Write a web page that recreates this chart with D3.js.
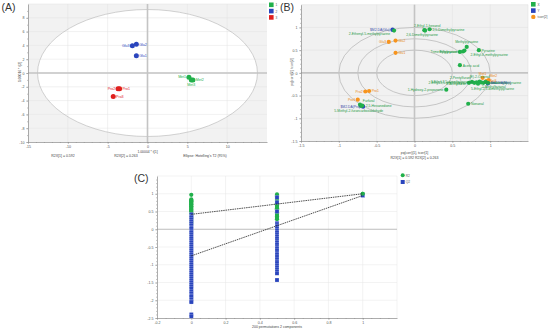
<!DOCTYPE html>
<html>
<head>
<meta charset="utf-8">
<script src="https://cdn.jsdelivr.net/npm/d3@7"></script>
<style>
body { margin: 0; background: #fff; }
text { font-family: "Liberation Sans", Arial, sans-serif; }
</style>
</head>
<body>
<svg id="chart" width="550" height="331"></svg>
<script>
// ---- (A) score plot data
var scoreNames = ["Met1", "Met2", "Met3", "Glu1", "Glu2", "Glu3", "Pro1", "Pro2", "Pro3"];
var scoreClass = [1, 1, 1, 2, 2, 2, 3, 3, 3];
var scoreT1 = [5.2, 5.7, 5.5, -1.4, -1.4, -1.9, -3.5, -3.7, -4.3];
var scoreT2 = [-0.6, -1.0, -1.0, 2.5, 4.15, 3.95, -2.3, -2.3, -3.4];
var classLabels = ["1", "2", "3"];
var hotelling = [13.8, 9.2];

// ---- (B) loading plot data
var loadNames = ["2-Ethenyl-5-methylpyrazine", "2-Ethyl-1-hexanol", "2,6-Dimethylpyrazine", "2,5-Dimethylpyrazine",
    "Methylpyrazine", "Trimethylpyrazine", "Ethylpyrazine", "2-Ethyl-6-methylpyrazine", "Pyrazine", "Acetic acid",
    "2-Pentylfuran", "(E)-2-Octenal", "2-Ethyl-3,5-dimethylpyrazine", "3-Ethyl-2,5-dimethylpyrazine",
    "2-Acetylfuran", "5-Ethyl-2,3-dimethylpyrazine", "Hexanal", "Benzaldehyde", "2-Methylbutanal", "Tetramethylpyrazine",
    "1-Hydroxy-2-propanone", "Nonanal", "Furfural", "2,5-Hexanedione", "5-Methyl-2-furancarboxaldehyde"];
var loadP1 = [-0.27, 0.13, 0.14, 0.2, 0.69, 0.6, 0.64, 0.66, 0.85, 0.6,
    0.76, 0.86, 0.79, 0.82, 0.72, 0.84, 0.88, 0.91, 0.94, 0.97,
    0.42, 0.71, -0.72, -0.69, -0.71];
var loadP2 = [0.93, 0.94, 0.93, 0.96, 0.57, 0.46, 0.47, 0.49, 0.5, 0.17,
    -0.2, -0.19, -0.22, -0.21, -0.22, -0.24, -0.21, -0.22, -0.2, -0.22,
    -0.37, -0.68, -0.7, -0.72, -0.73];
var yVarNames = ["$M2.DA(Glu)", "$M2.DA(Pro)", "$M2.DA(Met)"];
var yVarP1 = [-0.29, -0.68, 0.97];
var yVarP2 = [0.95, -0.74, -0.23];
var tcorrNames = ["Met1", "Met2", "Met3", "Glu1", "Glu2", "Glu3", "Pro1", "Pro2", "Pro3"];
var tcorr1 = [0.9, 0.98, 0.95, -0.25, -0.25, -0.34, -0.6, -0.65, -0.75];
var tcorr2 = [-0.11, -0.16, -0.18, 0.44, 0.71, 0.68, -0.4, -0.41, -0.59];
var corrRings = [1, 0.75, 0.5];

// ---- (C) permutation test data
var r2AtZero = [0.97, 0.84, 0.82, 0.79, 0.77, 0.75, 0.72, 0.7, 0.68, 0.65, 0.63, 0.6, 0.57, 0.55, 0.52,
    0.49, 0.46, 0.44, 0.41, 0.37, 0.33, 0.3, 0.26, 0.22, 0.18, 0.15];
var q2AtZero = [0.42, 0.37, 0.33, 0.28, 0.22, 0.17, 0.11, 0.06, 0.01, -0.05, -0.1, -0.16, -0.21, -0.27, -0.33,
    -0.38, -0.44, -0.49, -0.55, -0.6, -0.66, -0.72, -0.77, -0.83, -0.88, -0.94, -1.0, -1.05, -1.11, -1.17,
    -1.22, -1.28, -1.33, -1.39, -1.45, -1.5, -1.56, -1.61, -1.67, -1.75, -1.8, -1.86, -1.9, -1.97, -2.03,
    -2.05, -2.4, -2.45];
var r2AtHalf = [0.98, 0.95, 0.92, 0.89, 0.86, 0.83, 0.8, 0.77, 0.73, 0.7, 0.66, 0.63, 0.59, 0.56, 0.52,
    0.48, 0.44, 0.4, 0.36, 0.32, 0.28];
var q2AtHalf = [0.9, 0.76, 0.5, 0.17, 0.12, 0.07, 0.01, -0.04, -0.1, -0.16, -0.21, -0.27, -0.33, -0.38, -0.44,
    -0.5, -0.55, -0.61, -0.67, -0.72, -0.78, -0.84, -0.9, -0.95, -1.01, -1.07, -1.13, -1.19, -1.24, -1.43];
var r2Original = 1.0;
var q2Original = 0.95;
var r2Line = [0.42, 1.0];
var q2Line = [-0.75, 0.95];

var green = "#21b04b", blue = "#2a45bd", red = "#e0201e", orange = "#f7941d";
var classColor = { 1: green, 2: blue, 3: red };

var svg = d3.select("#chart");
var fmt = d => String(d);

function drawAxes(g, x, y, xTicks, yTicks, xMinor, yMinor) {
    var x0 = x.range()[0], y0 = y.range()[0];
    g.append("g").attr("transform", `translate(0, ${y0})`)
        .call(d3.axisBottom(x).tickValues(xMinor).tickSize(1).tickSizeOuter(0).tickFormat(""))
        .call(a => a.select(".domain").remove());
    g.append("g").attr("transform", `translate(${x0}, 0)`)
        .call(d3.axisLeft(y).tickValues(yMinor).tickSize(1).tickSizeOuter(0).tickFormat(""))
        .call(a => a.select(".domain").remove());
    var xa = g.append("g").attr("transform", `translate(0, ${y0})`)
        .call(d3.axisBottom(x).tickValues(xTicks).tickSize(2).tickSizeOuter(0).tickPadding(1.5).tickFormat(fmt));
    var ya = g.append("g").attr("transform", `translate(${x0}, 0)`)
        .call(d3.axisLeft(y).tickValues(yTicks).tickSize(2).tickSizeOuter(0).tickPadding(1.5).tickFormat(fmt));
    g.selectAll(".domain").attr("stroke", "#8a8a8a").attr("stroke-width", 0.7);
    g.selectAll(".tick line").attr("stroke", "#8a8a8a").attr("stroke-width", 0.5);
    g.selectAll(".tick text").attr("font-size", 3.6).attr("fill", "#555");
}

function grid(g, x, y, xTicks, yTicks, color) {
    g.selectAll(null).data(xTicks).enter().append("line")
        .attr("x1", d => x(d)).attr("x2", d => x(d))
        .attr("y1", y.range()[0]).attr("y2", y.range()[1])
        .attr("stroke", color).attr("stroke-width", 0.5);
    g.selectAll(null).data(yTicks).enter().append("line")
        .attr("y1", d => y(d)).attr("y2", d => y(d))
        .attr("x1", x.range()[0]).attr("x2", x.range()[1])
        .attr("stroke", color).attr("stroke-width", 0.5);
}

function place(px, py, p) {
    // p = [dx, dy, anchor]
    return { x: px + p[0], y: py + p[1], a: p[2] };
}

//panel A
var xA = d3.scaleLinear().domain([-15, 15]).range([28, 267]);
var yA = d3.scaleLinear().domain([-10, 10]).range([142, 4]);
var gA = svg.append("g");
var xTicksA = [-15, -10, -5, 0, 5, 10], yTicksA = [-10, -8, -6, -4, -2, 0, 2, 4, 6, 8];

gA.append("rect").attr("x", xA(-15)).attr("y", yA(10))
    .attr("width", xA(15) - xA(-15)).attr("height", yA(-10) - yA(10)).attr("fill", "#f2f2f2");
gA.append("ellipse").attr("cx", xA(0)).attr("cy", yA(0))
    .attr("rx", xA(hotelling[0]) - xA(0)).attr("ry", yA(0) - yA(hotelling[1]))
    .attr("fill", "#fff");
grid(gA, xA, yA, xTicksA.slice(1), yTicksA.slice(1).concat([10]), "#e3e3e3");
gA.append("ellipse").attr("cx", xA(0)).attr("cy", yA(0))
    .attr("rx", xA(hotelling[0]) - xA(0)).attr("ry", yA(0) - yA(hotelling[1]))
    .attr("fill", "none").attr("stroke", "#b4b4b4").attr("stroke-width", 0.6);
gA.append("line").attr("x1", xA(0)).attr("x2", xA(0)).attr("y1", yA(-10)).attr("y2", yA(10))
    .attr("stroke", "#c4c4c4").attr("stroke-width", 1.6);
gA.append("line").attr("x1", xA(-15)).attr("x2", xA(15)).attr("y1", yA(0)).attr("y2", yA(0))
    .attr("stroke", "#c4c4c4").attr("stroke-width", 1.6);
drawAxes(gA, xA, yA, xTicksA, yTicksA, d3.range(-15, 15, 1), d3.range(-10, 10, 1));

var labelA = { Met1: [-2.8, 1.2, "end"], Met2: [2.8, 1.2, "start"], Met3: [0, 6.2, "middle"],
    Glu1: [2.8, 1.2, "start"], Glu2: [2.8, 1.2, "start"], Glu3: [-2.8, 1.2, "end"],
    Pro1: [2.8, 1.2, "start"], Pro2: [-2.8, 1.2, "end"], Pro3: [2.8, 1.2, "start"] };

gA.selectAll(".score").data(scoreNames).enter().append("circle")
    .attr("cx", (d, i) => xA(scoreT1[i])).attr("cy", (d, i) => yA(scoreT2[i]))
    .attr("r", 2.5).attr("fill", (d, i) => classColor[scoreClass[i]]);
gA.selectAll(".scoreLabel").data(scoreNames).enter().append("text")
    .each(function(d, i) {
        var p = place(xA(scoreT1[i]), yA(scoreT2[i]), labelA[d]);
        d3.select(this).attr("x", p.x).attr("y", p.y).attr("text-anchor", p.a);
    })
    .attr("font-size", 3.6).attr("fill", (d, i) => classColor[scoreClass[i]]).text(d => d);

gA.append("text").attr("x", xA(0)).attr("y", 152.5).attr("text-anchor", "middle")
    .attr("font-size", 3.4).attr("fill", "#444").text("1.00004 * t[1]");
gA.append("text").attr("transform", "translate(20.5, 72) rotate(-90)").attr("text-anchor", "middle")
    .attr("font-size", 3.4).attr("fill", "#444").text("1.00016 * t[2]");
var monoA = [["R2X[1] = 0.592", 63], ["R2X[2] = 0.263", 126], ["Ellipse: Hotelling's T2 (95%)", 205]];
monoA.forEach(m => gA.append("text").attr("x", m[1]).attr("y", 157).attr("text-anchor", "middle")
    .attr("font-family", "Liberation Mono, monospace").attr("font-size", 3.5).attr("fill", "#444").text(m[0]));

classLabels.forEach((c, i) => {
    gA.append("rect").attr("x", 269).attr("y", 2.5 + i * 6.3).attr("width", 4.6).attr("height", 4.6)
        .attr("fill", classColor[i + 1]);
    gA.append("text").attr("x", 275.5).attr("y", 6.2 + i * 6.3).attr("font-size", 3.2).attr("fill", "#555").text(c);
});

//panel B
var xB = d3.scaleLinear().domain([-1.5, 1.5]).range([301, 528]);
var yB = d3.scaleLinear().domain([-1.5, 1.5]).range([141, 4.7]);
var gB = svg.append("g");
var ticksB = [-1.5, -1, -0.5, 0, 0.5, 1];

gB.append("rect").attr("x", xB(-1.5)).attr("y", yB(1.5))
    .attr("width", xB(1.5) - xB(-1.5)).attr("height", yB(-1.5) - yB(1.5)).attr("fill", "#f1f1f1");
grid(gB, xB, yB, [-1, -0.5, 0.5, 1, 1.5], [-1, -0.5, 0.5, 1, 1.5], "#dedede");
gB.selectAll(".ring").data(corrRings).enter().append("ellipse")
    .attr("cx", xB(0)).attr("cy", yB(0))
    .attr("rx", d => xB(d) - xB(0)).attr("ry", d => yB(0) - yB(d))
    .attr("fill", "none").attr("stroke", "#a8a8a8").attr("stroke-width", 0.6);
gB.append("line").attr("x1", xB(0)).attr("x2", xB(0)).attr("y1", yB(-1.5)).attr("y2", yB(1.5))
    .attr("stroke", "#c4c4c4").attr("stroke-width", 1.6);
gB.append("line").attr("x1", xB(-1.5)).attr("x2", xB(1.5)).attr("y1", yB(0)).attr("y2", yB(0))
    .attr("stroke", "#c4c4c4").attr("stroke-width", 1.6);
drawAxes(gB, xB, yB, ticksB, ticksB, d3.range(-15, 15, 1).map(d => d / 10), d3.range(-15, 15, 1).map(d => d / 10));

var labelB = {
    "2-Ethenyl-5-methylpyrazine": [-4, 4.5, "end"], "2-Ethyl-1-hexanol": [3, -3.5, "middle"],
    "2,6-Dimethylpyrazine": [-3, 5.5, "middle"], "2,5-Dimethylpyrazine": [2.8, 1.4, "start"],
    "Methylpyrazine": [0, -3.5, "middle"], "Trimethylpyrazine": [-2.8, 1.4, "end"],
    "Ethylpyrazine": [-2.8, 1.4, "end"], "2-Ethyl-6-methylpyrazine": [6, 5, "start"],
    "Pyrazine": [2.8, 1.4, "start"], "Acetic acid": [2.8, 1.4, "start"],
    "2-Pentylfuran": [-2, -2.8, "end"], "(E)-2-Octenal": [0, -3, "middle"],
    "2-Ethyl-3,5-dimethylpyrazine": [-2.8, 1.4, "end"], "3-Ethyl-2,5-dimethylpyrazine": [-2.8, 0.8, "end"],
    "2-Acetylfuran": [-2.8, 1.8, "end"], "5-Ethyl-2,3-dimethylpyrazine": [-7, 6, "start"],
    "Hexanal": [2.8, 1.4, "start"], "Benzaldehyde": [2.8, 1.4, "start"],
    "2-Methylbutanal": [-4, 6, "start"], "Tetramethylpyrazine": [2.8, 1.4, "start"],
    "1-Hydroxy-2-propanone": [-2.8, 1.4, "end"], "Nonanal": [2.8, 1.4, "start"],
    "Furfural": [2.8, -2.5, "start"], "2,5-Hexanedione": [3.5, 1.4, "start"],
    "5-Methyl-2-furancarboxaldehyde": [-2, 6, "middle"] };
var labelY = { "$M2.DA(Glu)": [-2.8, 1.2, "end"], "$M2.DA(Pro)": [-2.8, 1.2, "end"], "$M2.DA(Met)": [2.8, 1.2, "start"] };
var labelT = { Met1: [0, -3, "middle"], Met2: [1, -2.8, "start"], Met3: [2.6, 1.2, "start"],
    Glu1: [2.6, 1.2, "start"], Glu2: [2.6, 1.2, "start"], Glu3: [-2.6, 1.2, "end"],
    Pro1: [2.6, 1.2, "start"], Pro2: [-2.6, 1.2, "end"], Pro3: [-2.6, 1.2, "end"] };

function labelB_draw(names, v1, v2, lut, color) {
    gB.selectAll(null).data(names).enter().append("text")
        .each(function(d, i) {
            var p = place(xB(v1[i]), yB(v2[i]), lut[d]);
            d3.select(this).attr("x", p.x).attr("y", p.y).attr("text-anchor", p.a);
        })
        .attr("font-size", 3.4).attr("fill", color).text(d => d);
}

gB.selectAll(".tc").data(tcorrNames).enter().append("circle")
    .attr("cx", (d, i) => xB(tcorr1[i])).attr("cy", (d, i) => yB(tcorr2[i]))
    .attr("r", 2.1).attr("fill", orange);
gB.selectAll(".yv").data(yVarNames).enter().append("circle")
    .attr("cx", (d, i) => xB(yVarP1[i])).attr("cy", (d, i) => yB(yVarP2[i]))
    .attr("r", 2.2).attr("fill", blue);
gB.selectAll(".ld").data(loadNames).enter().append("circle")
    .attr("cx", (d, i) => xB(loadP1[i])).attr("cy", (d, i) => yB(loadP2[i]))
    .attr("r", 2.1).attr("fill", green);
labelB_draw(loadNames, loadP1, loadP2, labelB, "#1e9a45");
labelB_draw(yVarNames, yVarP1, yVarP2, labelY, "#3a4ea8");
labelB_draw(tcorrNames, tcorr1, tcorr2, labelT, "#e8891a");

gB.append("text").attr("transform", "translate(292.5, 72) rotate(-90)").attr("text-anchor", "middle")
    .attr("font-size", 3.3).attr("fill", "#444").text("pq(corr)[2], tcorr[2]");
gB.append("text").attr("x", xB(0)).attr("y", 153.5).attr("text-anchor", "middle")
    .attr("font-size", 3.3).attr("fill", "#444").text("pq(corr)[1], tcorr[1]");
gB.append("text").attr("x", xB(0)).attr("y", 158.5).attr("text-anchor", "middle")
    .attr("font-family", "Liberation Mono, monospace").attr("font-size", 3.5).attr("fill", "#444")
    .text("R2X[1] = 0.592 R2X[2] = 0.263");

var legB = [["X", green, "rect"], ["Y", blue, "rect"], ["tcorr[2]", orange, "circle"]];
legB.forEach((l, i) => {
    if (l[2] === "rect") {
        gB.append("rect").attr("x", 531).attr("y", 2 + i * 6.3).attr("width", 4.6).attr("height", 4.6).attr("fill", l[1]);
    } else {
        gB.append("circle").attr("cx", 533.3).attr("cy", 4.3 + i * 6.3).attr("r", 2.2).attr("fill", l[1]);
    }
    gB.append("text").attr("x", 537.5).attr("y", 5.6 + i * 6.3).attr("font-size", 3.2).attr("fill", "#555").text(l[0]);
});

//panel C
var xC = d3.scaleLinear().domain([-0.2, 1.2]).range([157, 397]);
var yC = d3.scaleLinear().domain([-2.5, 1.5]).range([318, 176]);
var gC = svg.append("g");
var xTicksC = [-0.2, 0, 0.2, 0.4, 0.6, 0.8, 1], yTicksC = [-2.5, -2, -1.5, -1, -0.5, 0, 0.5, 1];

grid(gC, xC, yC, [0, 0.2, 0.4, 0.6, 0.8, 1, 1.2], [-2, -1.5, -1, -0.5, 0.5, 1, 1.5], "#e6e6e6");
gC.append("line").attr("x1", xC(-0.2)).attr("x2", xC(1.2)).attr("y1", yC(0)).attr("y2", yC(0))
    .attr("stroke", "#bdbdbd").attr("stroke-width", 1);
drawAxes(gC, xC, yC, xTicksC, yTicksC, d3.range(-4, 24, 1).map(d => d / 20), d3.range(-25, 15, 1).map(d => d / 10));

var r2Pts = r2AtZero.map(v => [0, v]).concat(r2AtHalf.map(v => [0.5, v])).concat([[1, r2Original]]);
var q2Pts = q2AtZero.map(v => [0, v]).concat(q2AtHalf.map(v => [0.5, v])).concat([[1, q2Original]]);

gC.selectAll(".r2").data(r2Pts).enter().append("circle")
    .attr("cx", d => xC(d[0])).attr("cy", d => yC(d[1])).attr("r", 2.1).attr("fill", green);
gC.selectAll(".q2").data(q2Pts).enter().append("rect")
    .attr("x", d => xC(d[0]) - 2).attr("y", d => yC(d[1]) - 2).attr("width", 4).attr("height", 4)
    .attr("fill", blue).attr("stroke", "#fff").attr("stroke-width", 0.2);
gC.append("circle").attr("cx", xC(1)).attr("cy", yC(r2Original)).attr("r", 2.1).attr("fill", green);

[r2Line, q2Line].forEach(l => {
    gC.append("line").attr("x1", xC(0)).attr("y1", yC(l[0])).attr("x2", xC(1)).attr("y2", yC(l[1]))
        .attr("stroke", "#222").attr("stroke-width", 0.8).attr("stroke-dasharray", "1.5,0.8");
});

gC.append("text").attr("x", 277).attr("y", 328).attr("text-anchor", "middle")
    .attr("font-size", 3.5).attr("fill", "#444").text("200 permutations 2 components");
gC.append("circle").attr("cx", 402.7).attr("cy", 175.3).attr("r", 2).attr("fill", green);
gC.append("text").attr("x", 405.8).attr("y", 176.6).attr("font-size", 3.2).attr("fill", "#555").text("R2");
gC.append("rect").attr("x", 400.7).attr("y", 180).attr("width", 4).attr("height", 4).attr("fill", blue);
gC.append("text").attr("x", 405.8).attr("y", 183.3).attr("font-size", 3.2).attr("fill", "#555").text("Q2");

// panel letters
[["(A)", 1.5, 11], ["(B)", 280, 11], ["(C)", 134, 181.5]].forEach(t => {
    svg.append("text").attr("x", t[1]).attr("y", t[2])
        .attr("font-family", "Liberation Serif, serif").attr("font-size", 10.5).attr("fill", "#333").text(t[0]);
});
</script>
</body>
</html>
